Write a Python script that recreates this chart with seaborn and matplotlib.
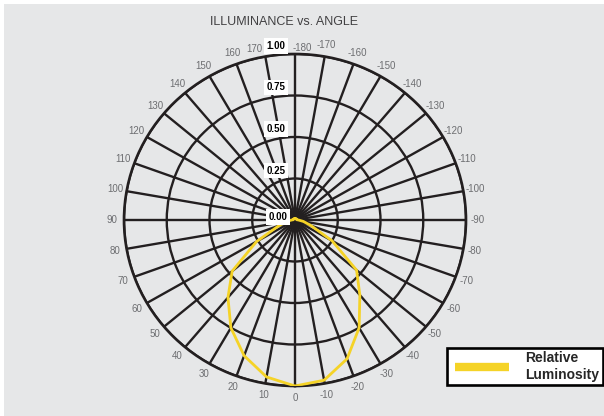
import numpy as np
import matplotlib
matplotlib.use("Agg")
import matplotlib.pyplot as plt
import matplotlib.transforms as mtransforms
from matplotlib.patches import Rectangle
import seaborn as sns

angles = [-180, -170, -160, -150, -140, -130, -120, -110, -100, -90,
          -80, -70, -60, -50, -40, -30, -20, -10, 0,
          10, 20, 30, 40, 50, 60, 70, 80, 90,
          100, 110, 120, 130, 140, 150, 160, 170, 180]
luminosity = [0.01, 0.01, 0.01, 0.01, 0.01, 0.01, 0.01, 0.01, 0.01, 0.02,
              0.05, 0.10, 0.25, 0.47, 0.59, 0.75, 0.89, 0.98, 1.00,
              0.96, 0.87, 0.75, 0.61, 0.48, 0.26, 0.10, 0.05, 0.02,
              0.01, 0.01, 0.01, 0.01, 0.01, 0.01, 0.01, 0.01, 0.01]

tick_angles = list(range(0, 360, 10))
tick_labels = ["0", "10", "20", "30", "40", "50", "60", "70", "80", "90",
               "100", "110", "120", "130", "140", "150", "160", "170",
               "-180", "-170", "-160", "-150", "-140", "-130", "-120", "-110",
               "-100", "-90", "-80", "-70", "-60", "-50", "-40", "-30", "-20", "-10"]
rings = [0.0, 0.25, 0.5, 0.75, 1.0]
ring_labels = ["0.00", "0.25", "0.50", "0.75", "1.00"]

bg = "#e6e7e8"
grid_col = "#231f20"
yellow = "#f5d327"
label_col = "#6d6e71"

sns.set_style("white")
plt.rcParams["font.family"] = ["Liberation Sans", "DejaVu Sans"]

fig = plt.figure(figsize=(6.04, 4.16), dpi=100, facecolor="white")
fig.patches.append(Rectangle((4 / 604, 0), 600 / 604, 412 / 416,
                             transform=fig.transFigure, facecolor=bg,
                             edgecolor="none", zorder=-10))

ax = fig.add_axes([124 / 604, 30 / 416, 342 / 604, 332 / 416], projection="polar")
ax.set_aspect("auto")
ax.set_facecolor("none")
ax.set_theta_zero_location("S")
ax.set_theta_direction(-1)

theta = np.deg2rad(angles)
sns.lineplot(x=theta, y=luminosity, ax=ax, sort=False, color=yellow,
             linewidth=2.0, label="Relative\nLuminosity", zorder=5)
ax.set_xlabel("")
ax.set_ylabel("")

ax.set_ylim(0, 1.0)
ax.set_thetagrids(tick_angles, labels=tick_labels)
ax.set_rgrids([0.25, 0.5, 0.75, 1.0], labels=[])
ax.grid(True, color=grid_col, linewidth=1.7)
ax.spines["polar"].set_color(grid_col)
ax.spines["polar"].set_linewidth(1.9)
ax.tick_params(axis="x", size=0, pad=1.5, labelsize=7, labelcolor=label_col)

# 170 y -180 se colocan a los lados del recuadro 1.00
moved = {"170": (np.deg2rad(170), -11, 8), "-180": (np.pi, 7, 6)}
for lbl in ax.xaxis.get_ticklabels():
    if lbl.get_text() in moved:
        lbl.set_visible(False)
for txt, (th, dx, dy) in moved.items():
    tr = mtransforms.offset_copy(ax.transData, fig=fig, x=dx, y=dy, units="dots")
    ax.text(th, 1.0, txt, transform=tr, ha="center", va="center",
            fontsize=7, color=label_col)

# etiquetas radiales con recuadro blanco
for v, lab in zip(rings, ring_labels):
    dy = 3 if v == 0 else 8
    dx = -17 if v == 0 else -19
    tr = mtransforms.offset_copy(ax.transData, fig=fig, x=dx, y=dy, units="dots")
    ax.text(np.pi, v, lab, transform=tr, ha="center", va="center",
            fontsize=7, fontweight="bold", color="black", zorder=6,
            bbox=dict(facecolor="white", edgecolor="none", pad=1.8))

fig.text(284 / 604, 1 - 22 / 416, "ILLUMINANCE vs. ANGLE", ha="center", va="center",
         fontsize=9, color="#414042")

leg = ax.legend(loc="lower right", bbox_to_anchor=(603 / 604, 1 - 385 / 416),
                bbox_transform=fig.transFigure, borderaxespad=0, frameon=True,
                fancybox=False, framealpha=1, facecolor="white", edgecolor="black",
                prop={"weight": "bold", "size": 10}, handlelength=4.2,
                handletextpad=1.2, borderpad=0.25)
leg.get_frame().set_linewidth(1.9)
for line in leg.get_lines():
    line.set_linewidth(6)
    line.set_solid_capstyle("butt")
    xd = np.asarray(line.get_xdata(), dtype=float)
    line.set_xdata(np.linspace(xd[0] + 3, xd[-1], len(xd)))

fig.savefig("out.png", dpi=100, facecolor=fig.get_facecolor())
